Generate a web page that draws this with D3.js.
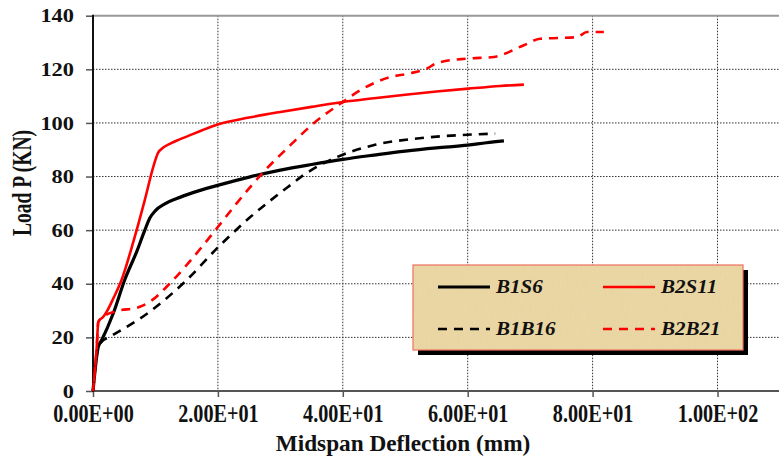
<!DOCTYPE html>
<html>
<head>
<meta charset="utf-8">
<script src="https://cdn.jsdelivr.net/npm/d3@7"></script>
<style>
  html, body { margin: 0; padding: 0; background: #fff; }
  svg { display: block; }
  text { font-family: "Liberation Serif", "Times New Roman", serif; font-weight: bold; fill: #111; }
</style>
</head>
<body>
<svg id="chart" width="779" height="459"></svg>
<script>
// Load–deflection curves: [midspan deflection (mm), load (kN)]
const seriesNames = ["B1S6", "B2S11", "B1B16", "B2B21"];

const b1s6 = [[0,0],[0.85,16.5],[1.4,19],[3.25,29],[5.1,41.6],[7,52],[8.3,60],[9.1,64.5],[10,67.3],
  [11.5,69.8],[13.4,71.8],[16,74],[20.1,76.8],[25,79.8],[30,82.4],[35,84.5],[40,86.4],[45,88],
  [50,89.5],[55,90.7],[60,91.7],[63,92.6],[65.8,93.3]];

const b2s11 = [[0,0],[0.6,16.5],[0.85,25.8],[1.65,27.7],[2.2,29.6],[3.25,34.5],[4.6,41.6],[6.5,56],
  [8.3,71.3],[9.7,84],[10.4,88.8],[11.2,90.7],[12.3,92.2],[13.6,93.6],[15,94.9],[17.5,97.3],[20.1,99.5],[25,102],
  [30,104.1],[35,106],[40,107.8],[45,109.2],[50,110.5],[55,111.7],[60.1,112.8],[65.2,113.8],[69,114.3]];

const b1b16 = [[0,0],[0.85,16.5],[1.4,18.4],[2.7,20.2],[9.1,29.6],[14.7,40.7],[20.1,53.8],[25,64.5],
  [31.6,76.8],[33.7,80.5],[39.1,87.3],[44.9,91.7],[51.9,94.2],[58.3,95.4],[64.4,96]];

const b2b21 = [[0,0],[0.6,16.5],[0.85,25.8],[1.65,27.7],[3.5,29.6],[7.5,31.4],[9.1,33.3],[12.3,40.1],
  [15,47],[19.8,60.6],[23,70],[27.3,81.7],[31.6,91.7],[35.3,99.8],[40,107.8],[42.8,112.2],[47.6,117.1],
  [50.5,118.4],[53.5,120.3],[55.1,122.4],[59.9,124],[64.2,124.6],[65.2,125.2],[69,129],[71.6,131.4],
  [77.5,132],[79.1,133.9],[81.8,133.9]];

const xTicks = [0, 20, 40, 60, 80, 100];
const yTicks = [0, 20, 40, 60, 80, 100, 120, 140];

const xTitle = "Midspan Deflection (mm)";
const yTitle = "Load P (KN)";

const svg = d3.select("#chart");
const W = 779;
const x = d3.scaleLinear().domain([0, 100]).range([93, 717.5]);
const y = d3.scaleLinear().domain([0, 140]).range([391, 15.7]);
const xRight = W;

// "2.00E+01" style labels
const sci = v => {
  const [m, e] = v.toExponential(2).split("e");
  const n = parseInt(e, 10);
  return m + "E" + (n < 0 ? "-" : "+") + String(Math.abs(n)).padStart(2, "0");
};

const defs = svg.append("defs");
const f = defs.append("filter").attr("id", "paper").attr("x", 0).attr("y", 0).attr("width", 1).attr("height", 1);
f.append("feTurbulence").attr("type", "fractalNoise").attr("baseFrequency", "0.9 0.08").attr("numOctaves", 2).attr("seed", 3).attr("result", "n");
f.append("feColorMatrix").attr("in", "n").attr("type", "matrix")
  .attr("values", "0 0 0 0 0.72  0 0 0 0 0.60  0 0 0 0 0.35  0 0 0 0.35 0");
f.append("feComposite").attr("in2", "SourceGraphic").attr("operator", "in");

// gridlines
const grid = svg.append("g").attr("stroke", "#333").attr("stroke-width", 1).attr("stroke-dasharray", "1.5,1.5");
grid.selectAll("line.h").data(yTicks.filter(d => d > 0 && d < 140)).join("line")
  .attr("x1", x(0)).attr("x2", xRight).attr("y1", d => y(d)).attr("y2", d => y(d));
grid.selectAll("line.v").data(xTicks.filter(d => d > 0)).join("line")
  .attr("x1", d => x(d)).attr("x2", d => x(d)).attr("y1", y(140)).attr("y2", y(0));

// top border
svg.append("line").attr("x1", x(0)).attr("x2", xRight).attr("y1", y(140)).attr("y2", y(140))
  .attr("stroke", "#999").attr("stroke-width", 2);

// axes
const yAxis = svg.append("g").attr("transform", `translate(${x(0)},0)`)
  .call(d3.axisLeft(y).tickValues(yTicks).tickSize(7).tickPadding(12).tickFormat(d3.format("d")));
const xAxis = svg.append("g").attr("transform", `translate(0,${y(0)})`)
  .call(d3.axisBottom(x).tickValues(xTicks).tickSize(6).tickPadding(0).tickFormat(sci));
[yAxis, xAxis].forEach(g => {
  g.select(".domain").remove();
  g.selectAll(".tick line").attr("stroke", "#555").attr("stroke-width", 1.5);
  g.selectAll(".tick text").attr("fill", "#111")
    .attr("font-family", "Liberation Serif, serif").attr("font-weight", "bold");
});
yAxis.selectAll(".tick text").attr("font-size", 19).each(function () {
  const t = d3.select(this);
  const tx = +t.attr("x");
  t.attr("transform", `translate(${tx},0) scale(1.18,1) translate(${-tx},0)`);
});
xAxis.selectAll(".tick text").attr("font-size", 20).attr("y", 0).attr("dy", "0.35em")
  .attr("transform", "translate(0,22) scale(1.01,1.22)");

svg.append("line").attr("x1", x(0)).attr("x2", xRight).attr("y1", y(0)).attr("y2", y(0))
  .attr("stroke", "#555").attr("stroke-width", 2);
svg.append("line").attr("x1", x(0)).attr("x2", x(0)).attr("y1", y(0) + 1).attr("y2", y(140) - 1)
  .attr("stroke", "#111").attr("stroke-width", 2);

// axis titles
svg.append("text").attr("transform", "translate(403,451) scale(0.97,1)")
  .attr("text-anchor", "middle").attr("font-size", 24).text(xTitle);
svg.append("text").attr("transform", "translate(31,183) rotate(-90) scale(1,1.45)")
  .attr("text-anchor", "middle").attr("font-size", 19.5).text(yTitle);

// curves
const line = d3.line().x(d => x(d[0])).y(d => y(d[1])).curve(d3.curveMonotoneX);
const styles = [
  { data: b1s6, color: "#000", width: 3.2, dash: null },
  { data: b2s11, color: "#f00", width: 2.6, dash: null },
  { data: b1b16, color: "#000", width: 2.6, dash: "9,7" },
  { data: b2b21, color: "#f00", width: 2.6, dash: "9,7" }
];
svg.append("g").selectAll("path").data(styles).join("path")
  .attr("d", d => line(d.data)).attr("fill", "none")
  .attr("stroke", d => d.color).attr("stroke-width", d => d.width)
  .attr("stroke-dasharray", d => d.dash).attr("stroke-linejoin", "round");

// legend
const L = { x: 413, y: 265, w: 330, h: 85 };
const lg = svg.append("g");
lg.append("rect").attr("x", L.x + 5).attr("y", L.y + 5).attr("width", L.w).attr("height", L.h).attr("fill", "#000");
lg.append("rect").attr("x", L.x).attr("y", L.y).attr("width", L.w).attr("height", L.h).attr("fill", "#ecd8a4");
lg.append("rect").attr("x", L.x).attr("y", L.y).attr("width", L.w).attr("height", L.h).attr("fill", "#fff").attr("filter", "url(#paper)");
lg.append("rect").attr("x", L.x).attr("y", L.y).attr("width", L.w).attr("height", L.h)
  .attr("fill", "none").attr("stroke", "#f07060").attr("stroke-width", 1.2);

const legendPos = [
  { lx: 438, ly: 287 }, { lx: 603, ly: 287 },
  { lx: 438, ly: 329 }, { lx: 603, ly: 329 }
];
styles.forEach((s, i) => {
  const p = legendPos[i];
  lg.append("line").attr("x1", p.lx).attr("x2", p.lx + 52).attr("y1", p.ly).attr("y2", p.ly)
    .attr("stroke", s.color).attr("stroke-width", s.width).attr("stroke-dasharray", s.dash);
  lg.append("text").attr("transform", `translate(${p.lx + 58},${p.ly + 6}) scale(1.17,1)`)
    .attr("font-size", 18).attr("font-style", "italic").text(seriesNames[i]);
});
</script>
</body>
</html>
